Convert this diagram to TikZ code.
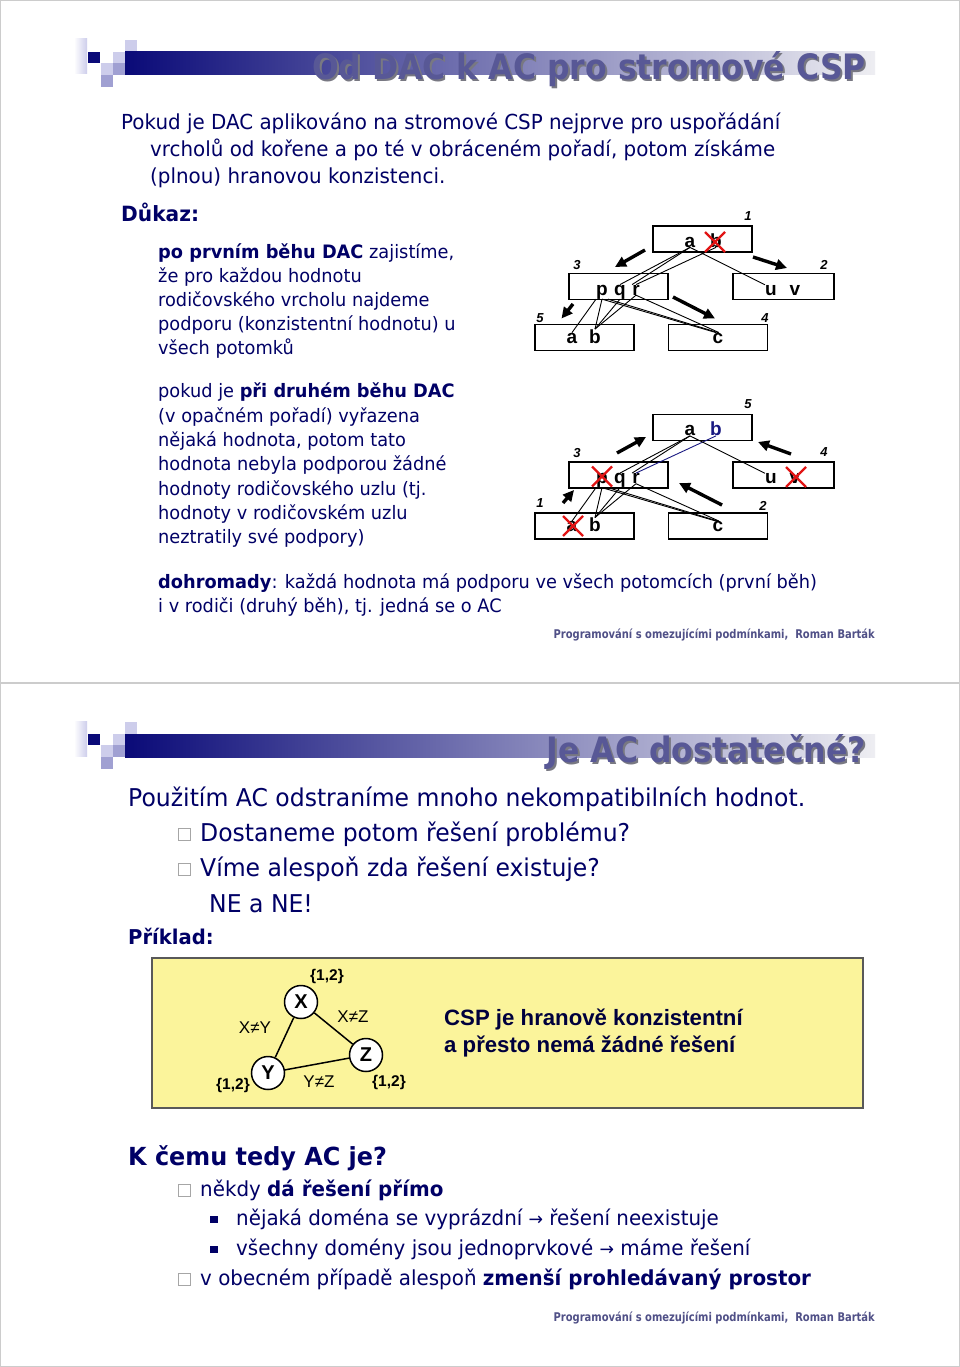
\documentclass[tikz,border=0pt]{standalone}
\usepackage{fontspec}
\setmainfont{DejaVu Sans}[FakeStretch=0.96]
\newfontfamily\ari{Liberation Sans}
\newfontfamily\titf{DejaVu Sans}[FakeStretch=0.9]
\newfontfamily\footf{DejaVu Sans}[FakeStretch=0.83]
\usetikzlibrary{arrows.meta,calc}
\definecolor{navy}{RGB}{0,0,102}
\definecolor{barnavy}{RGB}{10,10,120}
\definecolor{barmid}{RGB}{140,140,180}
\definecolor{barend}{RGB}{238,238,242}
\definecolor{ttl}{RGB}{88,88,150}
\definecolor{ttlsh}{RGB}{120,120,130}
\definecolor{foot}{RGB}{80,80,135}
\definecolor{yel}{RGB}{251,244,155}
\definecolor{lav1}{RGB}{205,205,235}
\definecolor{lav2}{RGB}{160,160,210}
\definecolor{crossred}{RGB}{225,20,20}
\definecolor{bnavy}{RGB}{25,25,130}
\tikzset{
  logo/.pic={
    \shade[left color=white, right color=lav1] (74,39) rectangle (87,74);
    \fill[lav1] (125,40) rectangle (137,52);
    \fill[barnavy] (88,52) rectangle (100,63);
    \fill[lav1] (113,52) rectangle (125,63);
    \fill[lav1] (101,63) rectangle (113,75);
    \fill[lav2] (113,63) rectangle (125,75);
    \fill[lav2] (101,75) rectangle (113,87);
    \shade[left color=barnavy, middle color=barmid, right color=barend] (125,52) rectangle (875,75);
  },
  xmark/.pic={\draw[crossred, line width=2.2] (-10,-10) -- (10,10) (-10,10) -- (10,-10);}
}
\begin{document}
\begin{tikzpicture}[x=1pt,y=-1pt,
  txt/.style={anchor=base west, inner sep=0, text=navy},
  bodyA/.style={txt, font=\fontsize{20.7}{24}\selectfont},
  bodyB/.style={txt, font=\fontsize{18.5}{22}\selectfont},
  bodyC/.style={txt, font=\fontsize{24.5}{28}\selectfont},
  bodyD/.style={txt, font=\fontsize{20.7}{25}\selectfont},
  footer/.style={anchor=base east, inner sep=0, text=foot, font=\footf\bfseries\fontsize{12}{14}\selectfont},
  title/.style={anchor=base east, inner sep=0, text=ttl, font=\titf\bfseries\fontsize{35}{40}\selectfont},
  titlesh/.style={title, text=ttlsh},
  chkbox/.style={draw=gray!70, line width=0.8, minimum size=12, inner sep=0, fill=white},
  sqbullet/.style={fill=navy, minimum size=7.5, inner sep=0},
  tbox/.style={draw, line width=1.8, minimum width=99, minimum height=26, inner sep=0},
  lt/.style={font=\ari\bfseries\fontsize{19}{19}\selectfont, inner sep=0, anchor=base},
  num/.style={font=\ari\bfseries\itshape\fontsize{13}{13}\selectfont, inner sep=0},
  vl/.style={line width=0.9},
  bigarr/.style={line width=3.4, -{Triangle[length=11pt,width=10.5pt]}},
  cnode/.style={circle, draw, fill=white, line width=1.5, minimum size=33, inner sep=0, font=\ari\bfseries\fontsize{20}{20}\selectfont},
  small/.style={inner sep=0, font=\ari\fontsize{17}{17}\selectfont},
  smallb/.style={inner sep=0, font=\ari\bfseries\fontsize{15.5}{15.5}\selectfont},
  ctext/.style={anchor=base west, inner sep=0, text=navy!60!black, font=\ari\bfseries\fontsize{22.2}{26}\selectfont}
]
\useasboundingbox (0,0) rectangle (960,1367);
\fill[white] (0,0) rectangle (960,1367);
\draw[gray!40, line width=1.2] (0.6,0.6) rectangle (959.4,1366.4);
\draw[gray!40, line width=1.2] (0,683) -- (960,683);

% ---------- slide 1 header
\pic at (0,0) {logo};
\node[titlesh] (t1s) at (868,82) {Od DAC k AC pro stromové CSP};
\node[title] (t1) at (866,80) {Od DAC k AC pro stromové CSP};

\node[bodyA] (l1) at (121,130) {Pokud je DAC aplikováno na stromové CSP nejprve pro uspořádání};
\node[bodyA] (l2) at (150,157) {vrcholů od kořene a po té v obráceném pořadí, potom získáme};
\node[bodyA] (l3) at (150,184) {(plnou) hranovou konzistenci.};
\node[bodyA, font=\bfseries\fontsize{21}{24}\selectfont] (l4) at (121,221) {Důkaz:};

\node[bodyB] (p1) at (158,258) {{\bfseries po prvním běhu DAC} zajistíme,};
\node[bodyB] (p2) at (158,282) {že pro každou hodnotu};
\node[bodyB] (p3) at (158,306) {rodičovského vrcholu najdeme};
\node[bodyB] (p4) at (158,330) {podporu (konzistentní hodnotu) u};
\node[bodyB] (p5) at (158,354) {všech potomků};
\node[bodyB] (q1) at (158,397) {pokud je {\bfseries při druhém běhu DAC}};
\node[bodyB] (q2) at (158,422) {(v opačném pořadí) vyřazena};
\node[bodyB] (q3) at (158,446) {nějaká hodnota, potom tato};
\node[bodyB] (q4) at (158,470) {hodnota nebyla podporou žádné};
\node[bodyB] (q5) at (158,495) {hodnoty rodičovského uzlu (tj.};
\node[bodyB] (q6) at (158,519) {hodnoty v rodičovském uzlu};
\node[bodyB] (q7) at (158,543) {neztratily své podpory)};
\node[bodyB] (d1) at (158,588) {{\bfseries dohromady}: každá hodnota má podporu ve všech potomcích (první běh)};
\node[bodyB] (d2) at (158,612) {i v rodiči (druhý běh), tj. jedná se o AC};
\node[footer] (f1) at (875,638) {Programování s omezujícími podmínkami,\ \ Roman Barták};

% ---------- tree 1
\begin{scope}
\node[tbox] (t1root) at (702.5,239) {};
\node[tbox] (t1b3) at (618.5,286.5) {};
\node[tbox, minimum width=101] (t1b2) at (783.5,286.5) {};
\node[tbox] (t1b5) at (584.5,337.5) {};
\node[tbox] (t1b4) at (718,337.5) {};
\node[lt] (t1ra) at (690,247) {a};
\node[lt] (t1rb) at (716,247) {b};
\node[lt] (t1p) at (602,295) {p};
\node[lt] (t1q) at (620,295) {q};
\node[lt] (t1r) at (636,295) {r};
\node[lt] (t1u) at (771,295) {u};
\node[lt] (t1v) at (795,295) {v};
\node[lt] (t1la) at (572,343) {a};
\node[lt] (t1lb) at (595,343) {b};
\node[lt] (t1c) at (718,343) {c};
\node[num] (t1n1) at (748,216) {1};
\node[num] (t1n3) at (577,265) {3};
\node[num] (t1n2) at (824,265) {2};
\node[num] (t1n5) at (540,318) {5};
\node[num] (t1n4) at (765,318) {4};
\draw[vl] (t1ra.south) -- (t1q.north);
\draw[vl] (t1ra.south) -- (t1r.north west);
\draw[vl] (t1rb.south) -- (t1r.north);
\draw[vl] (t1ra.south) -- (t1u.north west);
\draw[vl] (t1p.south west) -- (t1la.north);
\draw[vl] (t1p.south) -- (t1lb.north);
\draw[vl] (t1q.south) -- (t1lb.north);
\draw[vl] (t1r.south) -- (t1lb.north);
\draw[vl] (t1p.south) -- ([xshift=-2]t1c.north);
\draw[vl] (t1p.south east) -- (t1c.north);
\draw[vl] (t1r.south) -- ([xshift=1]t1c.north);
\pic at (715,242) {xmark};
\end{scope}
\coordinate (a1s) at (645,250); \coordinate (a1e) at (615,267);
\coordinate (a2s) at (753,257); \coordinate (a2e) at (787,268);
\coordinate (a3s) at (573,304); \coordinate (a3e) at (561.5,318.5);
\coordinate (a4s) at (673,297); \coordinate (a4e) at (715,318.5);
\draw[bigarr] (a1s) -- (a1e);
\draw[bigarr] (a2s) -- (a2e);
\draw[bigarr] (a3s) -- (a3e);
\draw[bigarr] (a4s) -- (a4e);

% ---------- tree 2
\begin{scope}[shift={(0,188.5)}]
\node[tbox] (t2root) at (702.5,239) {};
\node[tbox] (t2b3) at (618.5,286.5) {};
\node[tbox, minimum width=101] (t2b4) at (783.5,286.5) {};
\node[tbox] (t2b1) at (584.5,337.5) {};
\node[tbox] (t2b2) at (718,337.5) {};
\node[lt] (t2ra) at (690,247) {a};
\node[lt, text=bnavy] (t2rb) at (716,247) {b};
\node[lt] (t2p) at (602,295) {p};
\node[lt] (t2q) at (620,295) {q};
\node[lt] (t2r) at (636,295) {r};
\node[lt] (t2u) at (771,295) {u};
\node[lt] (t2v) at (795,295) {v};
\node[lt] (t2la) at (572,343) {a};
\node[lt] (t2lb) at (595,343) {b};
\node[lt] (t2c) at (718,343) {c};
\node[num] (t2n5) at (748,216) {5};
\node[num] (t2n3) at (577,265) {3};
\node[num] (t2n4) at (824,264) {4};
\node[num] (t2n1) at (540,315) {1};
\node[num] (t2n2) at (763,317) {2};
\draw[vl] (t2ra.south) -- (t2q.north);
\draw[vl] (t2ra.south) -- (t2r.north west);
\draw[vl, bnavy] (t2rb.south) -- (t2r.north);
\draw[vl] (t2ra.south) -- (t2u.north west);
\draw[vl] (t2p.south west) -- (t2la.north);
\draw[vl] (t2p.south) -- (t2lb.north);
\draw[vl] (t2q.south) -- (t2lb.north);
\draw[vl] (t2r.south) -- (t2lb.north);
\draw[vl] (t2p.south) -- ([xshift=-2]t2c.north);
\draw[vl] (t2p.south east) -- (t2c.north);
\draw[vl] (t2r.south) -- ([xshift=1]t2c.north);
\pic at (602,288) {xmark};
\pic at (796,288.5) {xmark};
\pic at (573,337.5) {xmark};
\end{scope}
\coordinate (b1s) at (617,453); \coordinate (b1e) at (646,437);
\coordinate (b2s) at (791,454); \coordinate (b2e) at (758,442);
\coordinate (b3s) at (563,503); \coordinate (b3e) at (574,490);
\coordinate (b4s) at (722,505); \coordinate (b4e) at (679,483);
\draw[bigarr] (b1s) -- (b1e);
\draw[bigarr] (b2s) -- (b2e);
\draw[bigarr] (b3s) -- (b3e);
\draw[bigarr] (b4s) -- (b4e);

% ---------- slide 2 header
\pic at (0,682) {logo};
\node[titlesh] (t2s) at (868,764) {Je AC dostatečné?};
\node[title] (t2t) at (866,762) {Je AC dostatečné?};

\node[bodyC] (s1) at (128,806) {Použitím AC odstraníme mnoho nekompatibilních hodnot.};
\node[chkbox] (c1) at (184.5,834) {};
\node[bodyC] (s2) at (200,841) {Dostaneme potom řešení problému?};
\node[chkbox] (c2) at (184.5,869) {};
\node[bodyC] (s3) at (200,876) {Víme alespoň zda řešení existuje?};
\node[bodyC] (s4) at (209,912) {NE a NE!};
\node[bodyD, font=\bfseries\fontsize{20.4}{25}\selectfont] (s5) at (128,944) {Příklad:};

% yellow example box
\draw[fill=yel, draw=gray!70!black, line width=1.2] (152,958) rectangle (863,1108);
\node[cnode] (X) at (301,1002) {X};
\node[cnode] (Y) at (268,1073) {Y};
\node[cnode] (Z) at (366,1055) {Z};
\draw[line width=1.5] (X) -- (Y);
\draw[line width=1.5] (X) -- (Z);
\draw[line width=1.5] (Y) -- (Z);
\node[smallb] (dx) at (327,976) {\{1,2\}};
\node[smallb] (dy) at (233,1085) {\{1,2\}};
\node[smallb] (dz) at (389,1082) {\{1,2\}};
\node[small] (cxy) at (255,1028) {X≠Y};
\node[small] (cxz) at (353,1017) {X≠Z};
\node[small] (cyz) at (319,1082) {Y≠Z};
\node[ctext] (e1) at (444,1025) {CSP je hranově konzistentní};
\node[ctext] (e2) at (444,1052) {a přesto nemá žádné řešení};

\node[bodyC, font=\bfseries\fontsize{24.9}{28}\selectfont] (k1) at (128,1165) {K čemu tedy AC je?};
\node[chkbox] (c3) at (184.5,1190) {};
\node[bodyD] (k2) at (200,1196) {někdy {\bfseries dá řešení přímo}};
\node[sqbullet] (bb1) at (214,1219.5) {};
\node[bodyD] (k3) at (236,1225) {nějaká doména se vyprázdní {\fontsize{18}{18}\selectfont →} řešení neexistuje};
\node[sqbullet] (bb2) at (214,1249.5) {};
\node[bodyD] (k4) at (236,1255) {všechny domény jsou jednoprvkové {\fontsize{18}{18}\selectfont →} máme řešení};
\node[chkbox] (c4) at (184.5,1279) {};
\node[bodyD] (k5) at (200,1285) {v obecném případě alespoň {\bfseries zmenší prohledávaný prostor}};
\node[footer] (f2) at (875,1321) {Programování s omezujícími podmínkami,\ \ Roman Barták};
\end{tikzpicture}
\end{document}
